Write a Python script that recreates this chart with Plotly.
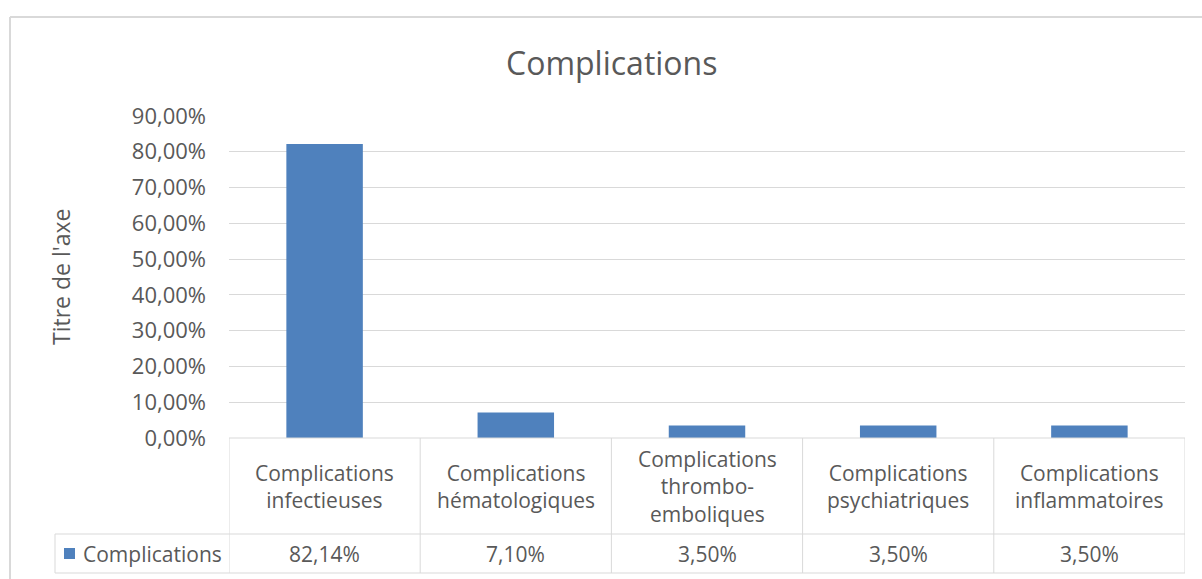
import plotly.graph_objects as go

categories = [
    "Complications<br>infectieuses",
    "Complications<br>hématologiques",
    "Complications<br>thrombo-<br>emboliques",
    "Complications<br>psychiatriques",
    "Complications<br>inflammatoires",
]
values = [0.8214, 0.0710, 0.0350, 0.0350, 0.0350]
value_labels = ["82,14%", "7,10%", "3,50%", "3,50%", "3,50%"]
series_name = "Complications"
title_text = "Complications"
y_title = "Titre de l'axe"

W, H = 1202, 579
L, R, T, B = 229, 1185, 116, 438
PW, PH = R - L, B - T
FONT = "Open Sans"
TXT = "#595959"
GRID = "#d9d9d9"
BLUE = "#4f81bd"


def px(x):
    return (x - L) / PW


def py(y):
    return (B - y) / PH


n = len(categories)
idx = list(range(n))

fig = go.Figure()
fig.add_trace(go.Bar(x=idx, y=values, marker=dict(color=BLUE, line=dict(width=0)),
                     name=series_name, showlegend=False, hoverinfo="y"))

shapes = []
line = dict(color=GRID, width=1)
# table horizontal lines
shapes.append(dict(type="line", xref="paper", yref="paper", x0=0, x1=1, y0=py(B), y1=py(B), line=line))
for yy in (534, 573):
    shapes.append(dict(type="line", xref="paper", yref="paper", x0=px(55), x1=1, y0=py(yy), y1=py(yy), line=line))
# table vertical lines
for i in range(n + 1):
    shapes.append(dict(type="line", xref="x", yref="paper", x0=i - 0.5, x1=i - 0.5,
                       y0=py(B), y1=py(573), line=line))
shapes.append(dict(type="line", xref="paper", yref="paper", x0=px(55), x1=px(55),
                   y0=py(534), y1=py(573), line=line))
# legend key
shapes.append(dict(type="rect", xref="paper", yref="paper", x0=px(64), x1=px(75),
                   y0=py(559), y1=py(548), fillcolor=BLUE, line=dict(width=0)))
# outer chart border
border = dict(color="#d9d9d9", width=2)
shapes.append(dict(type="line", xref="paper", yref="paper", x0=px(10), x1=px(W + 5),
                   y0=py(17), y1=py(17), line=border))
shapes.append(dict(type="line", xref="paper", yref="paper", x0=px(10), x1=px(10),
                   y0=py(17), y1=py(H + 5), line=border))

annotations = []
for i, (c, v) in enumerate(zip(categories, value_labels)):
    annotations.append(dict(x=i, xref="x", y=py(486), yref="paper", text=c, showarrow=False,
                            xanchor="center", yanchor="middle", font=dict(family=FONT, size=21, color=TXT)))
    annotations.append(dict(x=i, xref="x", y=py(553.5), yref="paper", text=v, showarrow=False,
                            xanchor="center", yanchor="middle", font=dict(family=FONT, size=21, color=TXT)))
annotations.append(dict(x=px(81), xref="paper", y=py(553.5), yref="paper", text=series_name,
                        showarrow=False, xanchor="left", yanchor="middle",
                        font=dict(family=FONT, size=21, color=TXT)))
annotations.append(dict(x=px(611), xref="paper", y=py(62), yref="paper", text=title_text,
                        showarrow=False, xanchor="center", yanchor="middle",
                        font=dict(family=FONT, size=32, color=TXT)))
annotations.append(dict(x=px(61), xref="paper", y=0.5, yref="paper", text=y_title,
                        showarrow=False, xanchor="center", yanchor="middle", textangle=-90,
                        font=dict(family=FONT, size=23, color=TXT)))

fig.update_layout(
    width=W, height=H, autosize=False,
    margin=dict(l=L, r=W - R, t=T, b=H - B, pad=0),
    paper_bgcolor="white", plot_bgcolor="white",
    separators=", ",
    bargap=0.6,
    shapes=shapes, annotations=annotations,
    font=dict(family=FONT, color=TXT),
    xaxis=dict(range=[-0.5, n - 0.5], showticklabels=False, showgrid=False, zeroline=False,
               showline=False, fixedrange=True),
    yaxis=dict(range=[0, 0.9], dtick=0.1, tick0=0, tickformat=".2%", showgrid=True, gridcolor=GRID,
               gridwidth=1, zeroline=False, showline=False, ticks="", ticklabelstandoff=22,
               tickfont=dict(family=FONT, size=22, color=TXT), fixedrange=True),
)

fig.write_html("out.html")
